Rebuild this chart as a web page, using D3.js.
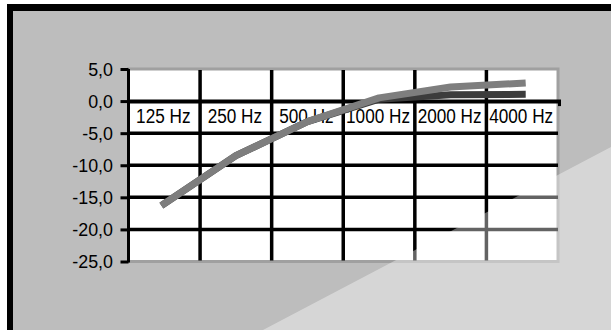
<!DOCTYPE html>
<html><head><meta charset="utf-8">
<script src="https://cdn.jsdelivr.net/npm/d3@7"></script>
<style>html,body{margin:0;padding:0;background:#fff;}svg{display:block;}</style>
</head><body>
<script>
const categories = ["125 Hz","250 Hz","500 Hz","1000 Hz","2000 Hz","4000 Hz"];
const seriesLight = [-16.0, -8.5, -3.2, 0.5, 2.2, 2.8];
const seriesDark  = [-16.0, -8.5, -3.2, 0.3, 1.0, 1.05];
const yTicks = [5, 0, -5, -10, -15, -20, -25];

const W = 611, H = 330;
const svg = d3.select("body").append("svg").attr("width", W).attr("height", H);

// background + frame
svg.append("rect").attr("x",7).attr("y",4).attr("width",W-7).attr("height",H-4).attr("fill","#000");
svg.append("rect").attr("x",13).attr("y",11).attr("width",W-13).attr("height",H-11).attr("fill","#bdbdbd");

const x = d3.scaleBand().domain(categories).range([128.5, 558]).padding(0);
const y = d3.scaleLinear().domain([-25, 5]).range([261.5, 69]);
const loc = d3.formatLocale({decimal:",", thousands:".", grouping:[3], currency:["",""], minus:"-"});
const fmt = loc.format(".1f");

// plot area
svg.append("rect").attr("x",x.range()[0]).attr("y",y(5)).attr("width",x.range()[1]-x.range()[0])
  .attr("height",y(-25)-y(5)).attr("fill","#fff").attr("stroke","#a0a0a0").attr("stroke-width",3);

const g = svg.append("g");
// horizontal gridlines
g.selectAll("line.hg").data(yTicks.filter(v => v < 0 && v > -25)).join("line")
  .attr("x1", x.range()[0]).attr("x2", x.range()[1]).attr("y1", d => y(d)).attr("y2", d => y(d))
  .attr("stroke","#000").attr("stroke-width",3.5);
// vertical gridlines at band boundaries
g.selectAll("line.vg").data(categories.slice(1)).join("line")
  .attr("x1", d => x(d)).attr("x2", d => x(d)).attr("y1", y(5)+1).attr("y2", y(-25)-1)
  .attr("stroke","#000").attr("stroke-width",3.5);

// x axis at zero
g.append("line").attr("x1", x.range()[0]).attr("x2", x.range()[1]+3).attr("y1", y(0)+0.5).attr("y2", y(0)+0.5)
  .attr("stroke","#000").attr("stroke-width",4);
g.append("line").attr("x1", x.range()[1]+1.5).attr("x2", x.range()[1]+1.5).attr("y1", y(0)).attr("y2", y(0)+5)
  .attr("stroke","#000").attr("stroke-width",3);

// y axis
const yAxis = d3.axisLeft(y).tickValues(yTicks).tickFormat(fmt).tickSize(8).tickPadding(7);
const ya = svg.append("g").attr("transform", `translate(${x.range()[0]},0)`).call(yAxis);
ya.select(".domain").attr("stroke","#000").attr("stroke-width",3).attr("d", `M0,${y(5)}V${y(-25)+1}`);
ya.selectAll(".tick line").attr("stroke","#000").attr("stroke-width",3);
ya.selectAll(".tick text").attr("fill","#000").attr("font-family","'Liberation Sans', Arial, sans-serif")
  .attr("font-size","17.5px").attr("dy","0.35em").attr("x",-15.5)
  .each(function(){ const w = this.getComputedTextLength(); d3.select(this).attr("textLength", w*1.02).attr("lengthAdjust","spacingAndGlyphs"); });

// x labels
svg.selectAll("text.xl").data(categories).join("text").attr("class","xl")
  .attr("x", d => x(d) + x.bandwidth()/2 - 1).attr("y", y(0) + 21.5)
  .attr("text-anchor","middle").attr("fill","#000")
  .attr("font-family","'Liberation Sans', Arial, sans-serif").attr("font-size","19.5px")
  .text(d => d)
  .each(function(){ const w = this.getComputedTextLength(); d3.select(this).attr("textLength", w*0.88).attr("lengthAdjust","spacingAndGlyphs"); });

// lines
const line = d3.line().x((d,i) => x(categories[i]) + x.bandwidth()/2).y(d => y(d));
svg.append("path").datum(seriesDark).attr("d", line).attr("fill","none")
  .attr("stroke","#3c3c3c").attr("stroke-width",7).attr("stroke-linecap","square").attr("stroke-linejoin","round");
svg.append("path").datum(seriesLight).attr("d", line).attr("fill","none")
  .attr("stroke","#7e7e7e").attr("stroke-width",7).attr("stroke-linecap","square").attr("stroke-linejoin","round");

// light overlay triangle
svg.append("polygon").attr("points", `${W},147 ${W},${H} 263,${H}`).attr("fill","#fff").attr("fill-opacity",0.39);
</script>
</body></html>
